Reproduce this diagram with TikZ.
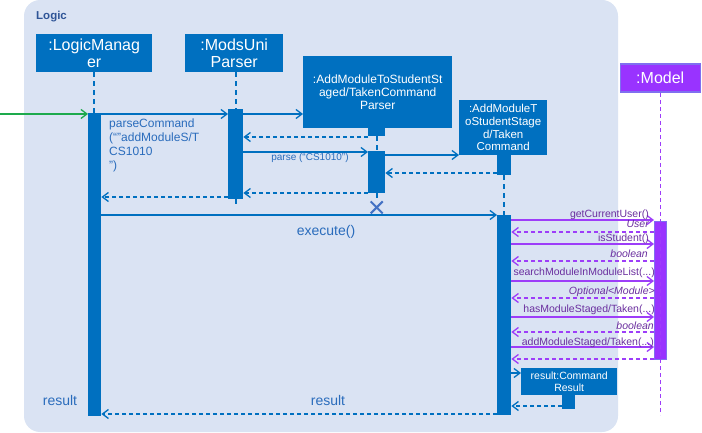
\documentclass[tikz,border=0pt]{standalone}
\usepackage{fontspec}
\setmainfont{Liberation Sans}
\usetikzlibrary{arrows.meta}

\definecolor{frameFill}{HTML}{DAE3F3}
\definecolor{logicBlue}{HTML}{0070C0}
\definecolor{labelBlue}{HTML}{2A6CBC}
\definecolor{titleBlue}{HTML}{2F5597}
\definecolor{modelPurple}{HTML}{9933FF}
\definecolor{modelEdge}{HTML}{7F6FF0}
\definecolor{callPurple}{HTML}{9D3DF9}
\definecolor{textPurple}{HTML}{6A2E9E}
\definecolor{entryGreen}{HTML}{1DAA4C}
\definecolor{killBlue}{HTML}{4472C4}

\newcommand\fsz[2]{\fontsize{#1}{#2}\selectfont}

\tikzset{
  participant/.style={fill=logicBlue, text=white, inner sep=0pt, anchor=north west, align=center},
  bar/.style={fill=logicBlue, inner sep=0pt, anchor=north west},
  modelbar/.style={fill=modelPurple, draw=modelEdge, line width=1pt, inner sep=0pt, anchor=north west},
  lifeline/.style={draw=logicBlue, line width=2pt, dash pattern=on 5pt off 4pt},
  modellife/.style={draw=callPurple, line width=1.4pt, dash pattern=on 4pt off 3pt},
  tip/.style={-{Straight Barb[length=6pt,width=9pt]}},
  call/.style={tip, draw=logicBlue, line width=1.3pt},
  reply/.style={call, dash pattern=on 4pt off 3pt},
  mcall/.style={tip, draw=callPurple, line width=1.3pt},
  mreply/.style={mcall, dash pattern=on 4pt off 3pt},
  msg/.style={text=labelBlue, inner sep=0pt},
  mmsg/.style={text=textPurple, inner sep=0pt, anchor=base east, font=\fsz{10.5}{12}},
}

\begin{document}
\begin{tikzpicture}[x=1pt, y=-1pt]
\useasboundingbox (0,0) rectangle (702,433);

% Logic component frame
\fill[frameFill, rounded corners=16pt] (24,0) rectangle (618,432);
\node[anchor=base west, inner sep=0pt, text=titleBlue, font=\bfseries\fsz{11.5}{13}] (title) at (36,20) {Logic};

% participants
\node[participant, minimum width=116pt, minimum height=38pt, font=\fsz{16}{17}] (lm) at (36,34) {:LogicManag\\er};
\node[participant, minimum width=98pt, minimum height=38pt, font=\fsz{16}{17}] (mu) at (185,34) {:ModsUni\\Parser};
\node[participant, minimum width=149pt, minimum height=72pt, font=\fsz{12}{13}] (ps) at (303,56) {:AddModuleToStudentSt\\aged/TakenCommand\\Parser};
\node[participant, minimum width=88pt, minimum height=55pt, font=\fsz{11.5}{12.6}] (cm) at (459,100) {:AddModuleT\\oStudentStage\\d/Taken\\Command};
\node[participant, fill=modelPurple, draw=modelEdge, line width=1.5pt, minimum width=80pt, minimum height=28pt, font=\fsz{16}{17}] (md) at (619.5,63.5) {:Model};

% activation bars
\node[bar, minimum width=13pt, minimum height=303pt] (lmAct) at (88,113) {};
\node[bar, minimum width=15pt, minimum height=90pt] (muAct) at (228,109) {};
\node[bar, minimum width=17pt, minimum height=9pt] (psTop) at (368,127) {};
\node[bar, minimum width=17pt, minimum height=42pt] (psAct) at (368,151) {};
\node[bar, minimum width=14pt, minimum height=21pt] (cmTop) at (497,154) {};
\node[bar, minimum width=14pt, minimum height=200pt] (cmAct) at (497,215) {};
\node[modelbar, minimum width=12pt, minimum height=138pt] (mdAct) at (654,221) {};

% lifelines
\draw[lifeline] (lm.south) -- (lmAct.north -| lm.south);
\draw[lifeline] (muAct.north |- mu.south) -- (muAct.north);
\draw[lifeline] (muAct.south) -- ++(0,8);
\draw[lifeline] (psTop.south) -- (psAct.north);
\draw[lifeline] (psAct.south) -- ++(0,8) coordinate (kill);
\draw[lifeline] (cmTop.south) -- (cmAct.north);
\draw[modellife] (md.south) -- (md.south |- 0,415);

% destruction of the parser
\draw[killBlue, line width=2pt] ([shift={(-6,0)}]kill) -- ++(12,12) ([shift={(6,0)}]kill) -- ++(-12,12);

% incoming call
\coordinate (entry) at (0,114);
\draw[tip, draw=entryGreen, line width=1.3pt] (entry) -- (lmAct.west |- entry);

% parsing
\draw[call] (lmAct.east |- 0,114) -- (muAct.west |- 0,114);
\node[msg, anchor=base west, align=left, font=\fsz{12}{14}] (pcLabel) at (109,170) {parseCommand\\(“"addModuleS/T\\CS1010\\”)};
\draw[call] (muAct.east |- 0,114) -- (ps.west |- 0,114);
\draw[reply] (psTop.west |- 0,137) -- (muAct.east |- 0,137);
\draw[call] (muAct.east |- 0,152) -- (psAct.west |- 0,152);
\node[msg, anchor=base, font=\fsz{10}{12}] (parseLabel) at (310,161) {parse (“CS1010”)};
\draw[call] (psAct.east |- 0,155) -- (cm.west |- 0,155);
\draw[reply] (cmTop.west |- 0,173) -- (psAct.east |- 0,173);
\draw[reply] (psAct.west |- 0,193) -- (muAct.east |- 0,193);
\draw[reply] (muAct.west |- 0,197) -- (lmAct.east |- 0,197);

% execution
\draw[call] (lmAct.east |- 0,215) -- (cmAct.west |- 0,215);
\node[msg, anchor=base, font=\fsz{14}{16}] (execLabel) at (326,236) {execute()};

% calls into the model
\draw[mcall]  (cmAct.east |- 0,220) -- (mdAct.west |- 0,220);
\node[mmsg] (l1) at (649,218) {getCurrentUser()};
\draw[mreply] (mdAct.west |- 0,232) -- (cmAct.east |- 0,232);
\node[mmsg, font=\itshape\fsz{10.5}{12}] (l2) at (649,228) {User};
\draw[mcall]  (cmAct.east |- 0,244) -- (mdAct.west |- 0,244);
\node[mmsg] (l3) at (649,241) {isStudent()};
\draw[mreply] (mdAct.west |- 0,261) -- (cmAct.east |- 0,261);
\node[mmsg, font=\itshape\fsz{10.5}{12}] (l4) at (648,257) {boolean};
\draw[mcall]  (cmAct.east |- 0,281) -- (mdAct.west |- 0,281);
\node[mmsg] (l5) at (655,275) {searchModuleInModuleList(...)};
\draw[mreply] (mdAct.west |- 0,298) -- (cmAct.east |- 0,298);
\node[mmsg, font=\itshape\fsz{10.5}{12}] (l6) at (655,294) {Optional<Module>};
\draw[mcall]  (cmAct.east |- 0,317) -- (mdAct.west |- 0,317);
\node[mmsg] (l7) at (655,312) {hasModuleStaged/Taken(...)};
\draw[mreply] (mdAct.west |- 0,332) -- (cmAct.east |- 0,332);
\node[mmsg, font=\itshape\fsz{10.5}{12}] (l8) at (654,329) {boolean};
\draw[mcall]  (cmAct.east |- 0,347) -- (mdAct.west |- 0,347);
\node[mmsg] (l9) at (654,345) {addModuleStaged/Taken(...)};
\draw[mreply] (mdAct.west |- 0,359) -- (cmAct.east |- 0,359);

% result object
\node[participant, minimum width=96pt, minimum height=27pt, font=\fsz{10.5}{12}] (res) at (521,368) {result:Command\\Result};
\node[bar, minimum width=13pt, minimum height=14pt] (resAct) at (562,395) {};
\draw[call] (cmAct.east |- 0,373) -- (res.west |- 0,373);
\draw[reply] (resAct.west |- 0,406) -- (cmAct.east |- 0,406);

% results returned
\draw[reply] (cmAct.west |- 0,414) -- (lmAct.east |- 0,414);
\node[msg, anchor=base, font=\fsz{14}{16}] (resLabel) at (328,405) {result};
\node[msg, anchor=base, font=\fsz{14}{16}] (outLabel) at (60,405) {result};
\end{tikzpicture}
\end{document}
